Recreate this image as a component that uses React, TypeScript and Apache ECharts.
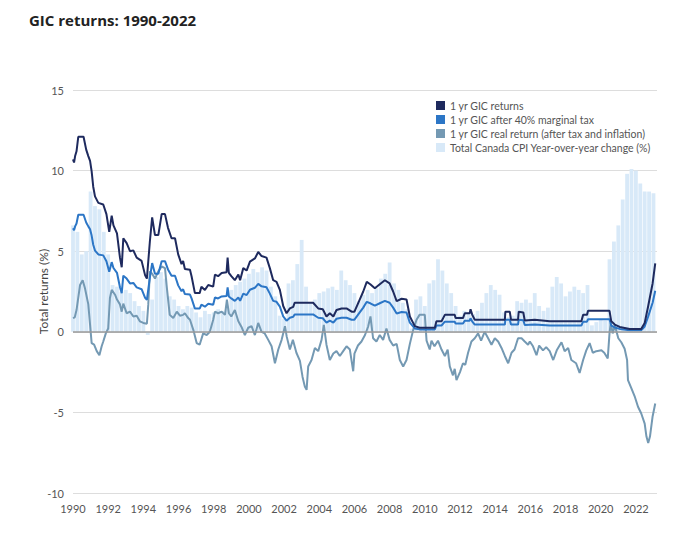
import React, { useEffect, useRef } from "react";
import * as echarts from "echarts";

const title = "GIC returns: 1990-2022";
const seriesNames = [
  "1 yr GIC returns",
  "1 yr GIC after 40% marginal tax",
  "1 yr GIC real return (after tax and inflation)",
  "Total Canada CPI Year-over-year change (%)",
];
const yTicks = [-10, -5, 0, 5, 10, 15];

// [year, %]
const gicReturns: [number, number][] = [
  [1990.0, 10.7], [1990.06, 10.5], [1990.12, 10.9], [1990.2, 11.2], [1990.3, 12.1], [1990.6, 12.1],
  [1990.75, 11.3], [1990.87, 10.9], [1990.97, 10.6], [1991.06, 9.95], [1991.15, 9.0], [1991.25, 8.4],
  [1991.44, 8.0], [1991.72, 7.9], [1991.9, 7.3], [1992.06, 6.2], [1992.2, 7.2], [1992.3, 6.6],
  [1992.5, 6.1], [1992.67, 4.6], [1992.77, 4.0], [1992.86, 5.8], [1993.05, 5.5], [1993.24, 5.0],
  [1993.43, 5.05], [1993.62, 4.6], [1993.9, 4.4], [1994.1, 3.5], [1994.2, 3.3], [1994.37, 5.6],
  [1994.5, 7.1], [1994.66, 6.0], [1994.85, 6.0], [1995.04, 7.3], [1995.23, 7.3], [1995.4, 6.45],
  [1995.6, 5.8], [1995.8, 5.8], [1995.98, 4.8], [1996.17, 4.2], [1996.26, 4.4], [1996.36, 3.9],
  [1996.65, 3.85], [1996.74, 3.45], [1996.93, 2.4], [1997.2, 2.4], [1997.3, 2.8], [1997.5, 2.6],
  [1997.69, 2.9], [1997.97, 2.8], [1998.07, 3.55], [1998.25, 3.45], [1998.45, 3.65], [1998.73, 3.7],
  [1998.79, 4.6], [1998.86, 3.65], [1999.0, 3.45], [1999.2, 3.2], [1999.4, 3.55], [1999.5, 3.2],
  [1999.68, 3.95], [1999.87, 3.8], [2000.06, 4.35], [2000.34, 4.55], [2000.53, 4.95], [2000.72, 4.7],
  [2001.0, 4.6], [2001.19, 3.95], [2001.38, 3.2], [2001.57, 3.1], [2001.76, 2.6], [2001.95, 1.6],
  [2002.14, 1.15], [2002.33, 1.45], [2002.52, 1.55], [2002.6, 1.8], [2003.65, 1.8], [2003.94, 1.45],
  [2004.2, 1.4], [2004.41, 0.95], [2004.6, 1.15], [2004.8, 0.95], [2004.98, 1.35], [2005.27, 1.45],
  [2005.55, 1.45], [2005.84, 1.25], [2006.0, 1.25], [2006.3, 2.0], [2006.5, 2.5], [2006.7, 3.1],
  [2006.9, 2.95], [2007.16, 2.7], [2007.44, 2.95], [2007.73, 3.2], [2008.0, 3.0], [2008.2, 2.5],
  [2008.4, 1.9], [2008.68, 2.05], [2008.96, 2.0], [2009.15, 0.95], [2009.43, 0.35], [2009.7, 0.25],
  [2010.57, 0.25], [2010.66, 0.65], [2010.95, 0.65], [2011.14, 1.05], [2011.7, 1.05], [2011.75, 0.85],
  [2012.17, 0.85], [2012.27, 1.15], [2012.55, 1.15], [2012.6, 1.4], [2012.7, 1.05], [2012.84, 0.75],
  [2014.55, 0.75], [2014.58, 1.25], [2014.83, 1.25], [2014.9, 0.75], [2015.3, 0.75], [2015.34, 1.25],
  [2015.6, 1.2], [2015.68, 0.7], [2016.25, 0.75], [2017.1, 0.65], [2018.9, 0.65], [2019.0, 1.05],
  [2019.22, 1.05], [2019.28, 1.3], [2020.5, 1.3], [2020.6, 0.65], [2020.8, 0.45], [2021.08, 0.3],
  [2021.65, 0.17], [2022.3, 0.17], [2022.5, 0.55], [2022.7, 1.6], [2022.95, 3.0], [2023.1, 4.25],
];

const gicAfterTax: [number, number][] = [
  [1990.0, 6.42], [1990.06, 6.3], [1990.12, 6.54], [1990.2, 6.72], [1990.3, 7.26], [1990.6, 7.26],
  [1990.75, 6.78], [1990.87, 6.54], [1990.97, 6.36], [1991.06, 5.97], [1991.15, 5.4], [1991.25, 5.04],
  [1991.44, 4.8], [1991.72, 4.74], [1991.9, 4.38], [1992.06, 3.72], [1992.2, 4.32], [1992.3, 3.96],
  [1992.5, 3.66], [1992.67, 2.76], [1992.77, 2.4], [1992.86, 3.48], [1993.05, 3.3], [1993.24, 3.0],
  [1993.43, 3.03], [1993.62, 2.76], [1993.9, 2.64], [1994.1, 2.1], [1994.2, 1.98], [1994.37, 3.36],
  [1994.5, 4.26], [1994.66, 3.6], [1994.85, 3.6], [1995.04, 4.38], [1995.23, 4.38], [1995.4, 3.87],
  [1995.6, 3.48], [1995.8, 3.48], [1995.98, 2.88], [1996.17, 2.52], [1996.26, 2.64], [1996.36, 2.34],
  [1996.65, 2.31], [1996.74, 2.07], [1996.93, 1.44], [1997.2, 1.44], [1997.3, 1.68], [1997.5, 1.56],
  [1997.69, 1.74], [1997.97, 1.68], [1998.07, 2.13], [1998.25, 2.07], [1998.45, 2.19], [1998.73, 2.22],
  [1998.79, 2.76], [1998.86, 2.19], [1999.0, 2.07], [1999.2, 1.92], [1999.4, 2.13], [1999.5, 1.92],
  [1999.68, 2.37], [1999.87, 2.28], [2000.06, 2.61], [2000.34, 2.73], [2000.53, 2.97], [2000.72, 2.82],
  [2001.0, 2.76], [2001.19, 2.37], [2001.38, 1.92], [2001.57, 1.86], [2001.76, 1.56], [2001.95, 0.96],
  [2002.14, 0.69], [2002.33, 0.87], [2002.52, 0.93], [2002.6, 1.08], [2003.65, 1.08], [2003.94, 0.87],
  [2004.2, 0.84], [2004.41, 0.57], [2004.6, 0.69], [2004.8, 0.57], [2004.98, 0.81], [2005.27, 0.87],
  [2005.55, 0.87], [2005.84, 0.75], [2006.0, 0.75], [2006.3, 1.2], [2006.5, 1.5], [2006.7, 1.86],
  [2006.9, 1.77], [2007.16, 1.62], [2007.44, 1.77], [2007.73, 1.92], [2008.0, 1.8], [2008.2, 1.5],
  [2008.4, 1.14], [2008.68, 1.23], [2008.96, 1.2], [2009.15, 0.57], [2009.43, 0.21], [2009.7, 0.15],
  [2010.57, 0.15], [2010.66, 0.39], [2010.95, 0.39], [2011.14, 0.63], [2011.7, 0.63], [2011.75, 0.51],
  [2012.17, 0.51], [2012.27, 0.69], [2012.55, 0.69], [2012.6, 0.84], [2012.7, 0.63], [2012.84, 0.45],
  [2014.55, 0.45], [2014.58, 0.75], [2014.83, 0.75], [2014.9, 0.45], [2015.3, 0.45], [2015.34, 0.75],
  [2015.6, 0.72], [2015.68, 0.42], [2016.25, 0.45], [2017.1, 0.39], [2018.9, 0.39], [2019.0, 0.63],
  [2019.22, 0.63], [2019.28, 0.78], [2020.5, 0.78], [2020.6, 0.39], [2020.8, 0.27], [2021.08, 0.18],
  [2021.65, 0.1], [2022.3, 0.1], [2022.5, 0.33], [2022.7, 0.96], [2022.95, 1.8], [2023.1, 2.55],
];

const gicReal: [number, number][] = [
  [1990.0, 0.85], [1990.1, 0.9], [1990.2, 1.35], [1990.4, 2.9], [1990.55, 3.2], [1990.68, 2.7],
  [1990.87, 1.7], [1990.97, 0.45], [1991.06, -0.7], [1991.2, -0.8], [1991.35, -1.2], [1991.5, -1.45],
  [1991.63, -0.9], [1991.72, -0.6], [1991.87, -0.08], [1992.0, 0.2], [1992.1, 2.1], [1992.2, 2.6],
  [1992.39, 2.3], [1992.5, 2.0], [1992.67, 1.7], [1992.77, 1.25], [1992.86, 1.75], [1993.05, 1.15],
  [1993.24, 1.25], [1993.43, 0.95], [1993.62, 1.0], [1993.8, 0.65], [1994.0, 0.55], [1994.2, 0.5],
  [1994.28, 1.7], [1994.37, 3.75], [1994.5, 3.6], [1994.66, 3.3], [1994.85, 3.75], [1995.04, 4.05],
  [1995.23, 3.95], [1995.32, 2.9], [1995.5, 1.05], [1995.7, 0.85], [1995.9, 1.25], [1996.08, 1.0],
  [1996.26, 1.05], [1996.36, 1.15], [1996.55, 0.85], [1996.65, 0.75], [1996.84, 0.12], [1997.03, -0.7],
  [1997.2, -0.8], [1997.4, -0.1], [1997.6, -0.2], [1997.78, 0.0], [1997.97, 0.75], [1998.07, 1.25],
  [1998.25, 1.15], [1998.45, 1.25], [1998.64, 1.05], [1998.75, 2.0], [1998.86, 1.15], [1999.0, 0.95],
  [1999.2, 1.35], [1999.4, 0.65], [1999.58, 0.3], [1999.77, -0.2], [1999.96, 0.25], [2000.15, 0.35],
  [2000.34, -0.2], [2000.53, 0.55], [2000.72, 0.0], [2000.9, -0.1], [2001.1, -0.5], [2001.29, -0.9],
  [2001.48, -1.95], [2001.67, -1.1], [2001.86, -0.5], [2002.05, 0.35], [2002.15, -0.3], [2002.33, -1.1],
  [2002.5, -0.5], [2002.7, -1.3], [2002.9, -1.8], [2003.05, -2.8], [2003.18, -3.4], [2003.28, -3.6],
  [2003.37, -2.15], [2003.56, -1.75], [2003.75, -1.0], [2003.94, -1.2], [2004.13, -0.5], [2004.26, 0.43],
  [2004.41, -0.8], [2004.6, -1.75], [2004.8, -1.35], [2004.98, -1.2], [2005.17, -1.5], [2005.36, -1.2],
  [2005.55, -0.9], [2005.74, -1.1], [2005.93, -2.45], [2006.0, -1.35], [2006.2, -0.85], [2006.4, -0.6],
  [2006.6, -0.2], [2006.78, 0.33], [2006.91, 0.95], [2007.06, -0.4], [2007.25, -0.6], [2007.44, -0.2],
  [2007.63, -0.5], [2007.82, 0.2], [2008.0, -0.5], [2008.2, -0.85], [2008.4, -0.75], [2008.58, -1.75],
  [2008.77, -2.15], [2008.96, -1.75], [2009.15, -0.75], [2009.34, 0.12], [2009.53, 0.75], [2009.7, 1.05],
  [2010.0, 1.05], [2010.1, -0.55], [2010.28, -1.1], [2010.38, -0.55], [2010.55, -0.9], [2010.75, -0.55],
  [2010.95, -1.1], [2011.14, -1.5], [2011.3, -1.1], [2011.42, -2.15], [2011.6, -2.7], [2011.7, -2.3],
  [2011.8, -3.0], [2012.0, -2.5], [2012.17, -1.95], [2012.3, -2.05], [2012.46, -1.3], [2012.65, -0.6],
  [2012.84, -0.4], [2013.03, -0.1], [2013.2, -0.55], [2013.4, 0.0], [2013.6, -0.4], [2013.79, -0.8],
  [2013.98, -0.4], [2014.17, -0.6], [2014.36, -1.0], [2014.55, -1.5], [2014.74, -1.95], [2014.93, -1.3],
  [2015.1, -1.1], [2015.3, -0.4], [2015.5, -0.4], [2015.68, -0.6], [2015.87, -0.8], [2015.97, -0.6],
  [2016.15, -0.9], [2016.35, -1.45], [2016.5, -0.85], [2016.72, -1.15], [2016.9, -0.95], [2017.1, -1.2],
  [2017.3, -1.75], [2017.5, -1.15], [2017.77, -0.65], [2017.95, -1.2], [2018.15, -1.0], [2018.33, -1.75],
  [2018.6, -1.95], [2018.8, -2.55], [2019.0, -1.75], [2019.18, -1.15], [2019.37, -0.7], [2019.55, -1.3],
  [2019.75, -1.2], [2020.04, -1.15], [2020.2, -1.3], [2020.4, -1.65], [2020.5, -0.1], [2020.57, 0.55],
  [2020.68, -0.1], [2020.8, 0.4], [2021.0, -0.4], [2021.17, -0.65], [2021.36, -1.05], [2021.5, -1.75],
  [2021.55, -3.0], [2021.74, -3.5], [2021.93, -4.0], [2022.12, -4.65], [2022.3, -5.05], [2022.5, -5.7],
  [2022.6, -6.5], [2022.7, -6.9], [2022.8, -6.5], [2022.95, -5.25], [2023.1, -4.45],
];

// quarterly CPI bars, starting 1990 Q1
const cpiStartYear = 1990;
const cpiValues: number[] = [
  6.6, 6.2, 4.8, 5.0, // 1990
  8.7, 7.8, 7.6, 6.2, // 1991
  4.8, 2.9, 2.8, 2.5, // 1992
  2.6, 2.4, 1.9, 1.6, // 1993
  1.3, -0.2, 2.0, 3.4, // 1994
  3.7, 3.3, 2.2, 2.0, // 1995
  1.6, 1.4, 1.6, 1.5, // 1996
  1.2, 0.9, 1.3, 1.1, // 1997
  1.2, 1.4, 1.3, 1.5, // 1998
  2.6, 2.9, 3.1, 3.3, // 1999
  3.6, 3.9, 3.7, 4.0, // 2000
  3.8, 2.8, 2.2, 1.0, // 2001
  0.8, 3.0, 3.2, 4.2, // 2002
  5.7, 2.8, 1.8, 2.0, // 2003
  2.4, 2.5, 2.7, 2.8, // 2004
  2.6, 3.8, 3.2, 2.9, // 2005
  2.4, 1.9, 2.3, 2.6, // 2006
  2.4, 2.7, 3.3, 3.6, // 2007
  4.3, 3.0, 2.6, 1.8, // 2008
  1.4, 0.2, 2.0, 2.2, // 2009
  1.6, 3.0, 3.2, 4.5, // 2010
  3.8, 3.0, 2.4, 1.6, // 2011
  1.0, 1.3, 1.2, 1.1, // 2012
  1.3, 1.8, 2.4, 2.9, // 2013
  2.6, 2.3, 1.2, 0.9, // 2014
  1.0, 1.9, 1.8, 2.0, // 2015
  1.8, 2.4, 1.6, 1.3, // 2016
  1.5, 2.8, 3.4, 3.0, // 2017
  2.2, 2.5, 2.8, 2.6, // 2018
  2.4, 2.9, 0.4, 0.6, // 2019
  0.8, 0.7, 4.5, 5.6, // 2020
  6.6, 8.2, 9.8, 10.1, // 2021
  10.0, 9.2, 8.7, 8.7, // 2022
  8.6, // 2023
];

const COLORS = {
  navy: "#1e2a5e",
  blue: "#2c76c6",
  gray: "#7499b3",
  cpi: "#d8e9f8",
};

export default function App() {
  const ref = useRef<HTMLDivElement>(null);

  useEffect(() => {
    if (!ref.current) return;
    const chart = echarts.init(ref.current, undefined, { renderer: "svg" });
    const cpiData = cpiValues.map((v, i) => [cpiStartYear + i * 0.25, v]);
    const font = "Lato, 'Noto Sans', sans-serif";

    chart.setOption({
      animation: false,
      backgroundColor: "#ffffff",
      title: {
        text: title,
        left: 24,
        top: 7,
        textStyle: {
          fontFamily: "'Open Sans', sans-serif",
          fontSize: 15,
          fontWeight: "bold",
          color: "#222222",
        },
      },
      legend: {
        orient: "vertical",
        left: 431,
        top: 95,
        itemWidth: 9,
        itemHeight: 9,
        itemGap: 3,
        icon: "rect",
        data: seriesNames,
        textStyle: { fontFamily: font, fontSize: 10.5, color: "#555555", lineHeight: 11 },
      },
      grid: { left: 73, right: 37, top: 90, bottom: 43 },
      xAxis: {
        type: "value",
        min: 1990,
        max: 2023.2,
        interval: 2,
        axisLine: { show: false },
        axisTick: { show: false },
        splitLine: { show: false },
        axisLabel: {
          color: "#555555",
          fontFamily: font,
          fontSize: 11,
          margin: 10,
          showMaxLabel: false,
          formatter: (v: number) =>
            Number.isInteger(v) && v % 2 === 0 ? String(v) : "",
        },
      },
      yAxis: {
        type: "value",
        min: yTicks[0],
        max: yTicks[yTicks.length - 1],
        interval: 5,
        name: "Total returns (%)",
        nameLocation: "middle",
        nameGap: 24,
        nameMoveOverlap: false,
        nameTextStyle: { fontFamily: font, fontSize: 12, color: "#444444" },
        axisLine: { show: false },
        axisTick: { show: false },
        axisLabel: { color: "#555555", fontFamily: font, fontSize: 11, margin: 9 },
        splitLine: { lineStyle: { color: "#dddddd", width: 1 } },
      },
      series: [
        {
          name: seriesNames[3],
          type: "bar",
          data: cpiData,
          barWidth: 3.8,
          itemStyle: { color: COLORS.cpi },
          z: 1,
          markLine: {
            silent: true,
            symbol: "none",
            label: { show: false },
            lineStyle: { color: "#9a9a9a", width: 1.5, type: "solid" },
            data: [{ yAxis: 0 }],
          },
        },
        {
          name: seriesNames[2],
          type: "line",
          data: gicReal,
          showSymbol: false,
          symbol: "none",
          lineStyle: { color: COLORS.gray, width: 2 },
          itemStyle: { color: COLORS.gray },
          z: 3,
        },
        {
          name: seriesNames[1],
          type: "line",
          data: gicAfterTax,
          showSymbol: false,
          symbol: "none",
          lineStyle: { color: COLORS.blue, width: 2 },
          itemStyle: { color: COLORS.blue },
          z: 4,
        },
        {
          name: seriesNames[0],
          type: "line",
          data: gicReturns,
          showSymbol: false,
          symbol: "none",
          lineStyle: { color: COLORS.navy, width: 2 },
          itemStyle: { color: COLORS.navy },
          z: 5,
        },
      ],
    });

    return () => chart.dispose();
  }, []);

  return (
    <div
      ref={ref}
      style={{ position: "fixed", left: 0, top: 0, width: 694, height: 536 }}
    />
  );
}
